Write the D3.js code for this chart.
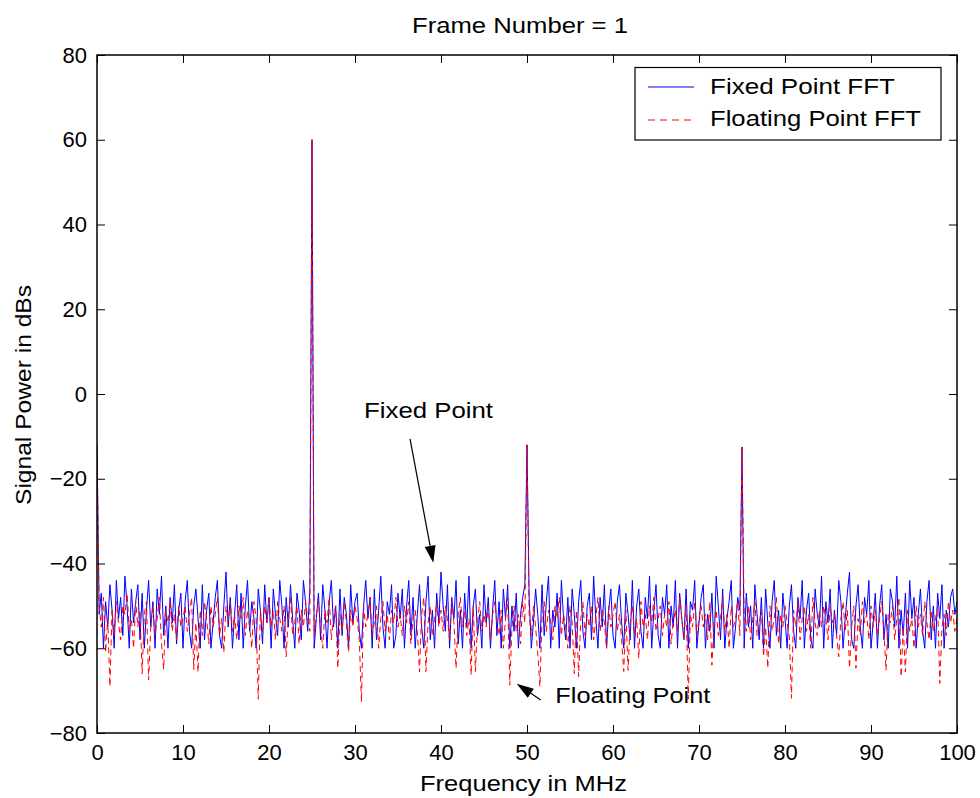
<!DOCTYPE html>
<html>
<head>
<meta charset="utf-8">
<script src="https://cdn.jsdelivr.net/npm/d3@7"></script>
<style>
  html, body { margin: 0; padding: 0; background: #fff; }
  svg { display: block; font-family: "Liberation Sans", Arial, Helvetica, sans-serif; }
</style>
</head>
<body>
<svg id="chart" width="980" height="798"></svg>
<script>
// ---------------- DATA ----------------
const title = "Frame Number = 1";
const xLabel = "Frequency in MHz";
const yLabel = "Signal Power in dBs";
const xTicks = [0, 10, 20, 30, 40, 50, 60, 70, 80, 90, 100];
const yTicks = [-80, -60, -40, -20, 0, 20, 40, 60, 80];
const freqStep = 0.25; // MHz between FFT bins
const seriesNames = ["Fixed Point FFT", "Floating Point FFT"];

// Fixed point FFT power (dB), bins 0 .. 400
const fixedPoint = [
  -12,
  -52,-47,-60,-49,-55,-45,-51,-60,-44,-53,-48,-57,-43,-50,-60,-46,-54,-49,-45,-58,
  -47,-60,-51,-44,-55,-49,-60,-46,-52,-43,-57,-50,-60,-48,-54,-45,-59,-51,-47,-60,
  -49,-44,-56,-60,-50,-46,-53,-60,-45,-58,-51,-47,-60,-54,-48,-44,-57,-60,-50,-42,
  -55,-48,-60,-52,-45,-58,-47,-60,-50,-44,-56,-49,-53,-60,-46,-51,-59,-45,-54,-48,
  -60,-46,-52,-57,-44,-50,-60,-48,-55,-45,-53,-60,-47,-51,-58,-44,-49,-56,-46,60,
  -60,-53,-47,-58,-45,-51,-60,-49,-44,-55,-50,-60,-46,-57,-48,-52,-60,-45,-54,-49,
  -47,-56,-60,-50,-44,-53,-48,-60,-46,-58,-51,-43,-55,-60,-49,-52,-45,-60,-57,-47,
  -53,-46,-60,-50,-44,-57,-48,-60,-52,-45,-55,-60,-49,-43,-58,-51,-60,-47,-54,-42,
  -50,-56,-45,-60,-48,-53,-44,-59,-51,-60,-47,-55,-43,-60,-50,-46,-57,-52,-60,-45,
  -54,-48,-60,-51,-44,-57,-49,-60,-46,-53,-45,-60,-50,-56,-47,-60,-52,-48,-45,-12,
  -48,-60,-54,-46,-52,-60,-45,-57,-49,-43,-60,-51,-55,-47,-60,-44,-53,-58,-48,-60,
  -46,-52,-60,-49,-44,-56,-60,-50,-47,-58,-43,-53,-60,-48,-55,-45,-60,-51,-46,-57,
  -60,-49,-45,-54,-60,-47,-52,-58,-44,-60,-50,-46,-56,-60,-48,-53,-43,-60,-51,-45,
  -57,-60,-48,-52,-45,-60,-50,-55,-44,-60,-47,-53,-58,-46,-60,-49,-51,-44,-60,-54,
  -48,-45,-60,-52,-56,-47,-60,-43,-50,-58,-46,-60,-53,-49,-44,-60,-55,-48,-51,-12.5,
  -60,-47,-55,-50,-60,-45,-52,-58,-48,-60,-46,-54,-60,-49,-44,-57,-51,-60,-47,-53,
  -60,-50,-45,-56,-60,-48,-53,-44,-60,-51,-47,-58,-60,-46,-52,-55,-43,-60,-49,-54,
  -46,-60,-51,-57,-44,-49,-60,-53,-47,-42,-58,-60,-50,-45,-55,-60,-48,-52,-44,-60,
  -54,-47,-60,-50,-45,-58,-52,-60,-46,-49,-55,-43,-60,-51,-57,-47,-60,-44,-53,-48,
  -60,-52,-46,-56,-60,-49,-44,-58,-50,-60,-47,-53,-45,-60,-51,-55,-48,-46,-52,-49
];

// Floating point FFT power (dB), bins 0 .. 400
const floatingPoint = [
  -12,
  -50,-55,-48,-61,-53,-69,-51,-57,-49,-54,-58,-50,-52,-47,-56,-53,-60,-49,-55,-51,
  -66,-52,-49,-67.5,-55,-50,-57,-53,-48,-59,-65,-51,-54,-49,-56,-52,-58,-50,-55,-53,
  -50,-56,-52,-48,-65,-54,-65.6,-51,-57,-49,-53,-59,-50,-55,-52,-48,-57,-53,-61,-50,
  -54,-49,-56,-52,-58,-50,-53,-48,-57,-51,-55,-60,-49,-53,-72,-51,-56,-50,-54,-48,
  -55,-51,-58,-49,-53,-56,-50,-62,-52,-48,-57,-54,-50,-59,-51,-55,-49,-53,-56,60,
  -57,-52,-49,-55,-60,-51,-54,-48,-58,-53,-50,-64.7,-52,-56,-49,-54,-61,-51,-55,-50,
  -53,-58,-72.7,-50,-55,-52,-48,-57,-54,-50,-60,-53,-49,-56,-52,-58,-51,-54,-48,-55,
  -52,-57,-50,-54,-49,-59,-53,-51,-56,-65.6,-52,-48,-65.5,-54,-50,-57,-53,-49,-55,-51,
  -56,-50,-53,-58,-49,-54,-64.7,-52,-48,-55,-51,-57,-53,-66.3,-50,-65.5,-54,-49,-56,-52,
  -55,-50,-58,-52,-49,-54,-57,-51,-60,-53,-48,-68.7,-55,-50,-56,-52,-59,-49,-54,-12,
  -52,-57,-50,-55,-61,-69,-53,-49,-56,-51,-54,-58,-50,-53,-48,-57,-52,-55,-60,-50,
  -54,-66,-51,-66.7,-53,-49,-57,-52,-55,-50,-58,-53,-48,-56,-51,-54,-60,-50,-55,-52,
  -49,-56,-52,-58,-65.5,-51,-65.2,-54,-50,-57,-53,-62.4,-49,-55,-52,-58,-50,-54,-48,-56,
  -53,-50,-57,-52,-55,-49,-59,-54,-51,-56,-48,-53,-58,-50,-72,-52,-55,-49,-57,-53,
  -50,-55,-52,-58,-49,-64,-54,-51,-57,-53,-48,-56,-52,-60,-50,-55,-53,-49,-57,-12.5,
  -52,-56,-50,-58,-53,-49,-57,-54,-51,-62,-55,-64.7,-50,-56,-53,-48,-59,-52,-55,-50,
  -54,-57,-71.8,-51,-55,-49,-58,-53,-50,-56,-52,-60,-48,-54,-57,-51,-55,-50,-53,-58,
  -50,-54,-52,-57,-62,-53,-49,-56,-51,-64.7,-55,-50,-64.7,-53,-57,-49,-54,-52,-58,-50,
  -55,-51,-57,-53,-49,-56,-65.2,-52,-54,-50,-58,-53,-48,-66.7,-55,-65.6,-51,-56,-53,-60,
  -50,-55,-52,-57,-49,-54,-58,-51,-56,-53,-50,-68.3,-55,-52,-57,-49,-54,-51,-56,-53
];

// Annotations (data coordinates: MHz, dB)
const annotationText = ["Fixed Point", "Floating Point"];
const annotationTextPos = [[31.05, -5.7], [53.3, -73.0]];
const annotationArrowFrom = [[36.4, -10.6], [51.6, -72.2]];
const annotationArrowTo = [[39.1, -39.8], [48.8, -68.4]];

// ---------------- CHART ----------------
const svg = d3.select("#chart");
const W = 980, H = 798;
const plot = { left: 97, right: 957, top: 55, bottom: 733 };

const x = d3.scaleLinear().domain([0, 100]).range([plot.left, plot.right]);
const y = d3.scaleLinear().domain([-80, 80]).range([plot.bottom, plot.top]);

svg.append("rect").attr("width", W).attr("height", H).attr("fill", "#fff");

const clipId = "plotclip";
svg.append("clipPath").attr("id", clipId).append("rect")
  .attr("x", plot.left).attr("y", plot.top)
  .attr("width", plot.right - plot.left).attr("height", plot.bottom - plot.top);

const line = d3.line()
  .x((d, i) => x(i * freqStep))
  .y(d => y(d));

const g = svg.append("g").attr("clip-path", `url(#${clipId})`);
g.append("path").datum(fixedPoint)
  .attr("d", line).attr("fill", "none")
  .attr("stroke", "#0000ff").attr("stroke-width", 1);
g.append("path").datum(floatingPoint)
  .attr("d", line).attr("fill", "none")
  .attr("stroke", "#ff0000").attr("stroke-width", 1)
  .attr("stroke-dasharray", "6,4");

// Axes
const fontSize = 22;
const bottomAxis = d3.axisBottom(x).tickValues(xTicks).tickSizeInner(-8).tickSizeOuter(0).tickPadding(11);
const leftAxis = d3.axisLeft(y).tickValues(yTicks).tickSizeInner(-8).tickSizeOuter(0).tickPadding(10);
const topAxis = d3.axisTop(x).tickValues(xTicks).tickSizeInner(-8).tickSizeOuter(0).tickFormat("");
const rightAxis = d3.axisRight(y).tickValues(yTicks).tickSizeInner(-8).tickSizeOuter(0).tickFormat("");

function styleAxis(sel) {
  sel.select(".domain").remove();
  sel.selectAll(".tick line").attr("stroke", "#000").attr("stroke-width", 1);
  sel.selectAll(".tick text").attr("fill", "#000").style("font-size", fontSize + "px")
    .style("font-family", '"Liberation Sans", Arial, sans-serif');
}
svg.append("g").attr("transform", `translate(0,${plot.bottom})`).call(bottomAxis).call(styleAxis);
svg.append("g").attr("transform", `translate(${plot.left},0)`).call(leftAxis).call(styleAxis);
svg.append("g").attr("transform", `translate(0,${plot.top})`).call(topAxis).call(styleAxis);
svg.append("g").attr("transform", `translate(${plot.right},0)`).call(rightAxis).call(styleAxis);

// Box
svg.append("rect")
  .attr("x", plot.left).attr("y", plot.top)
  .attr("width", plot.right - plot.left).attr("height", plot.bottom - plot.top)
  .attr("fill", "none").attr("stroke", "#000").attr("stroke-width", 1.5);

// helper: text stretched to the measured width of the reference
function wideText(parent, str, width) {
  return parent.append("text").style("font-size", fontSize + "px").attr("fill", "#000")
    .attr("textLength", width).attr("lengthAdjust", "spacingAndGlyphs").text(str);
}

// Title and labels
wideText(svg, title, 216).attr("x", 520).attr("y", 33).attr("text-anchor", "middle");
wideText(svg, xLabel, 207).attr("x", 523.5).attr("y", 791).attr("text-anchor", "middle");
wideText(svg, yLabel, 220).attr("text-anchor", "middle")
  .attr("transform", `translate(31,395) rotate(-90)`);

// Annotations
const annotationWidths = [129, 155];
annotationText.forEach((t, i) => {
  const [tx, ty] = annotationTextPos[i];
  wideText(svg, t, annotationWidths[i]).attr("x", x(tx)).attr("y", y(ty));
  const x1 = x(annotationArrowFrom[i][0]), y1 = y(annotationArrowFrom[i][1]);
  const x2 = x(annotationArrowTo[i][0]), y2 = y(annotationArrowTo[i][1]);
  const ang = Math.atan2(y2 - y1, x2 - x1);
  const headLen = 17, headHalf = 5.5;
  const bx = x2 - headLen * Math.cos(ang), by = y2 - headLen * Math.sin(ang);
  svg.append("line").attr("x1", x1).attr("y1", y1).attr("x2", bx).attr("y2", by)
    .attr("stroke", "#000").attr("stroke-width", 1.2);
  const px = -Math.sin(ang) * headHalf, py = Math.cos(ang) * headHalf;
  svg.append("path")
    .attr("d", `M${x2},${y2}L${bx + px},${by + py}L${bx - px},${by - py}Z`)
    .attr("fill", "#000");
});

// Legend
const legend = svg.append("g");
legend.append("rect").attr("x", 635).attr("y", 67.5).attr("width", 306).attr("height", 72.5)
  .attr("fill", "#fff").attr("stroke", "#000").attr("stroke-width", 1.2);
const legendRows = [
  { name: seriesNames[0], color: "#0000ff", dash: null, ly: 87, ty: 94, w: 185 },
  { name: seriesNames[1], color: "#ff0000", dash: "7,5", ly: 120, ty: 126, w: 211 }
];
legendRows.forEach(r => {
  legend.append("line").attr("x1", 648).attr("x2", 694).attr("y1", r.ly).attr("y2", r.ly)
    .attr("stroke", r.color).attr("stroke-width", 1)
    .attr("stroke-dasharray", r.dash);
  wideText(legend, r.name, r.w).attr("x", 710).attr("y", r.ty);
});
</script>
</body>
</html>
